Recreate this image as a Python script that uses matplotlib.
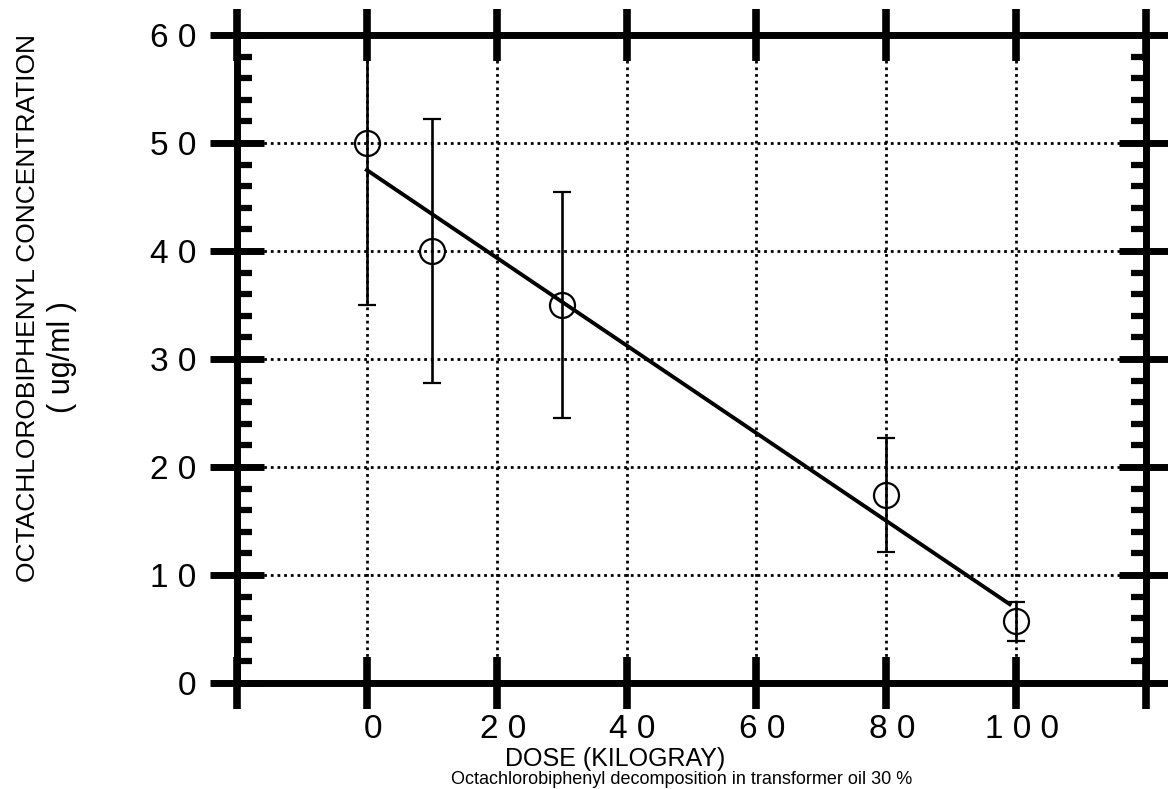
import numpy as np
import matplotlib.pyplot as plt
from matplotlib.transforms import ScaledTranslation

# data
dose = [0, 10, 30, 80, 100]
conc = [50.0, 40.0, 35.0, 17.4, 5.7]
conc_err = [15.0, 12.2, 10.5, 5.3, 1.8]

# fitted line (end points as drawn)
fit_dose = [0, 99]
fit_conc = [47.5, 7.3]

x_ticks = [-20, 0, 20, 40, 60, 80, 100, 120]
x_labels = ['', '0', '2 0', '4 0', '6 0', '8 0', '1 0 0', '']
y_ticks = [0, 10, 20, 30, 40, 50, 60]
y_labels = ['0', '1 0', '2 0', '3 0', '4 0', '5 0', '6 0']
y_minor = [y for y in range(0, 61, 2) if y % 10 != 0]

plt.rcParams['font.family'] = ['Liberation Sans', 'DejaVu Sans']

fig = plt.figure(figsize=(11.68, 7.89), dpi=100)
ax = fig.add_axes([0.2029, 0.1343, 0.7783, 0.8213])

# dotted grid
for x in [0, 20, 40, 60, 80, 100]:
    ax.axvline(x, color='black', lw=2.0, linestyle=(0, (1.0, 1.4)), zorder=1)
for y in [10, 20, 30, 40, 50]:
    ax.axhline(y, color='black', lw=2.0, linestyle=(0, (1.0, 1.4)), zorder=1)

ax.plot(fit_dose, fit_conc, color='black', lw=2.8, zorder=3)
ax.errorbar(dose, conc, yerr=conc_err, fmt='o', mfc='none', mec='black',
            ms=18, mew=1.6, ecolor='black', elinewidth=1.9, capsize=6.5,
            capthick=1.9, color='black', zorder=4)

ax.set_xlim(-20, 120)
ax.set_ylim(0, 60)
ax.set_xticks(x_ticks)
ax.set_xticklabels(x_labels)
ax.set_yticks(y_ticks)
ax.set_yticklabels(y_labels)
ax.set_yticks(y_minor, minor=True)

for s in ax.spines.values():
    s.set_linewidth(5)

ax.tick_params(axis='x', which='major', direction='inout', length=37, width=5.5,
               top=True, bottom=True, labelsize=24, pad=4)
ax.tick_params(axis='y', which='major', direction='inout', length=39, width=5,
               left=True, right=True, labelsize=24, pad=10)
ax.tick_params(axis='y', which='minor', direction='in', length=11, width=4.5,
               left=True, right=True)
for t in ax.xaxis.get_major_ticks():
    for ln in (t.tick1line, t.tick2line):
        ln.set_clip_on(False)

for lab in ax.get_xticklabels():
    lab.set_transform(lab.get_transform() + ScaledTranslation(0.06, 0, fig.dpi_scale_trans))

fig.text(28 / 1168, 1 - 308 / 789, 'OCTACHLOROBIPHENYL CONCENTRATION',
         rotation=90, ha='center', va='center', fontsize=19)
fig.text(62 / 1168, 1 - 357 / 789, '( ug/ml )', rotation=90,
         ha='center', va='center', fontsize=22)
fig.text(615 / 1168, 1 - 759 / 789, 'DOSE (KILOGRAY)', ha='center', va='center',
         fontsize=18)
fig.text(682 / 1168, 1 - 788 / 789,
         'Octachlorobiphenyl decomposition in transformer oil 30 %',
         ha='center', va='bottom', fontsize=13)

fig.savefig('out.png', dpi=100)
